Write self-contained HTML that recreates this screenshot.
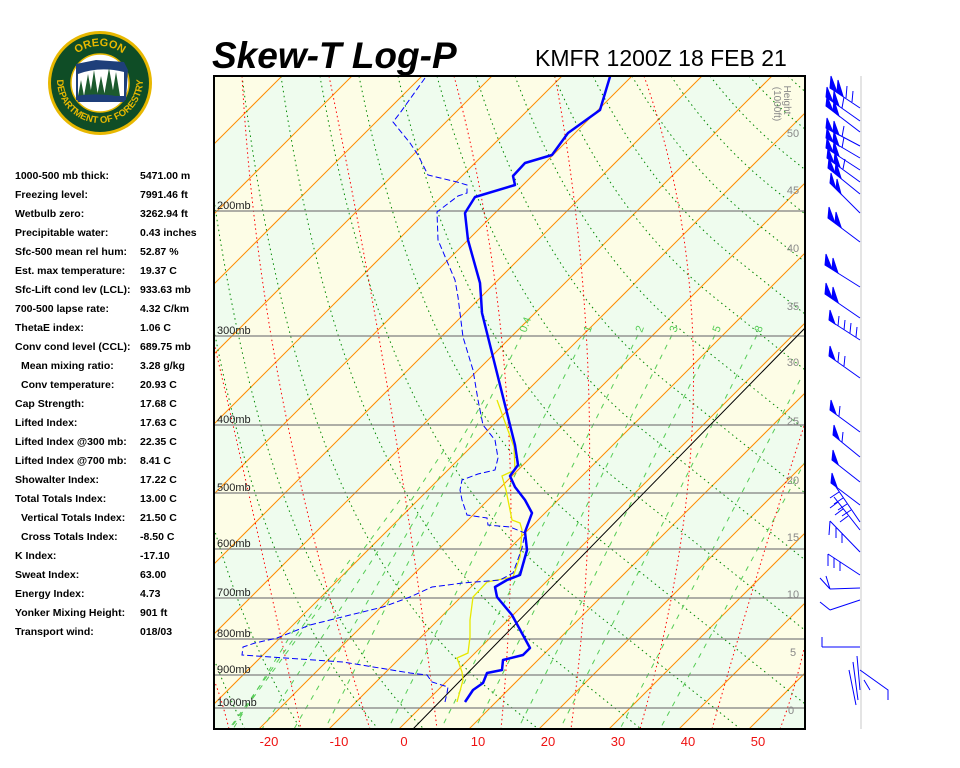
<!DOCTYPE html>
<html><head><meta charset="utf-8"><style>
html,body{margin:0;padding:0;background:#fff;width:960px;height:768px;overflow:hidden}
body{position:relative;font-family:"Liberation Sans",sans-serif}
svg{display:block}
.t{position:absolute;font-size:10.5px;font-weight:bold;color:#000;white-space:nowrap;line-height:12px}
</style></head><body>
<svg width="960" height="768" style="position:absolute;left:0;top:0" xmlns="http://www.w3.org/2000/svg">
<defs>
<clipPath id="c"><rect x="214" y="76" width="591" height="653"/></clipPath>
<path id="arcTop" d="M 62 84 A 38 38 0 0 1 138 84"/>
<path id="arcBot" d="M 57 80 A 43 43 0 0 0 143 80"/>
<g id="gd"><path d="M0,76 Q49,402 229,729"/></g>
</defs>
<!-- logo -->
<circle cx="100" cy="83" r="52" fill="#e8b800"/>
<circle cx="100" cy="83" r="49" fill="#0f4d26"/>
<circle cx="100" cy="83" r="29" fill="#fff" stroke="#e8b800" stroke-width="1.5"/>
<path d="M76 64 L96 60 L124 62 L128 70 L126 100 L76 100 Z" fill="#1e3f7a"/>
<path d="M78 74 Q100 66 124 72 L124 96 L78 96 Z" fill="#fff"/>
<g fill="#1c5a2e">
<polygon points="84,96 88,74 92,96"/><polygon points="90,96 94,70 98,96"/><polygon points="97,96 101,76 105,96"/><polygon points="104,96 109,68 114,96"/><polygon points="112,96 116,72 120,96"/><polygon points="78,96 81,80 84,96"/>
</g>
<path d="M76 96 Q100 92 126 98 L124 102 L78 102 Z" fill="#1e3f7a"/>
<text font-family="Liberation Sans" font-weight="bold" font-size="11" fill="#e8b800"><textPath href="#arcTop" startOffset="50%" text-anchor="middle">OREGON</textPath></text>
<text font-family="Liberation Sans" font-weight="bold" font-size="9.5" fill="#e8b800"><textPath href="#arcBot" startOffset="50%" text-anchor="middle">DEPARTMENT OF FORESTRY</textPath></text>

<!-- plot -->
<rect x="214" y="76" width="591" height="653" fill="#effcee"/>
<g clip-path="url(#c)">
<g fill="#fdfde6">
<polygon points="288,0 358,0 -442,800 -512,800"/>
<polygon points="428,0 498,0 -302,800 -372,800"/>
<polygon points="568,0 638,0 -162,800 -232,800"/>
<polygon points="708,0 778,0 -22,800 -92,800"/>
<polygon points="848,0 918,0 118,800 48,800"/>
<polygon points="988,0 1058,0 258,800 188,800"/>
<polygon points="1128,0 1198,0 398,800 328,800"/>
<polygon points="1268,0 1338,0 538,800 468,800"/>
<polygon points="1408,0 1478,0 678,800 608,800"/>
<polygon points="1548,0 1618,0 818,800 748,800"/>
</g>
<!-- orange -->
<g stroke="#ff8c00" stroke-width="1" fill="none">
<path d="M288,0L-512,800"/><path d="M358,0L-442,800"/><path d="M428,0L-372,800"/><path d="M498,0L-302,800"/><path d="M568,0L-232,800"/><path d="M638,0L-162,800"/><path d="M708,0L-92,800"/><path d="M778,0L-22,800"/><path d="M848,0L48,800"/><path d="M918,0L118,800"/><path d="M988,0L188,800"/><path d="M1058,0L258,800"/><path d="M1128,0L328,800"/><path d="M1198,0L398,800"/><path d="M1268,0L468,800"/><path d="M1338,0L538,800"/><path d="M1408,0L608,800"/><path d="M1478,0L678,800"/><path d="M1548,0L748,800"/><path d="M1618,0L818,800"/>
</g>
<!-- green dotted -->
<g id="gstat" stroke="#008800" stroke-width="1" fill="none" stroke-dasharray="1.5,3.5">
<use href="#gd" x="-199"/><use href="#gd" x="-121"/><use href="#gd" x="-43"/><use href="#gd" x="35"/><use href="#gd" x="113"/><use href="#gd" x="191"/><use href="#gd" x="281"/><use href="#gd" x="319"/><use href="#gd" x="359"/><use href="#gd" x="397"/><use href="#gd" x="437"/><use href="#gd" x="476"/><use href="#gd" x="515"/><use href="#gd" x="554"/><use href="#gd" x="593"/><use href="#gd" x="632"/><use href="#gd" x="671"/><use href="#gd" x="710"/><use href="#gd" x="749"/><use href="#gd" x="788"/>
</g>
<g id="gdyn" stroke="#008800" stroke-width="1" fill="none" stroke-dasharray="1.5,3.5"></g>
<!-- red isotherms -->
<g stroke="#ff0000" stroke-width="1" fill="none" stroke-dasharray="1.5,3">
<path d="M242,76 Q260,400 370,729"/>
<path d="M329,76 Q400,420 437,729"/>
<path d="M454,76 Q535,380 501,729"/>
<path d="M555,76 Q615,400 571,729"/>
<path d="M644,76 Q745,360 640,729"/>
<path d="M712,729 Q760,560 806,420"/>
<path d="M780,729 Q795,690 806,640"/>
<path d="M214,343 Q260,540 301,729"/>
<path d="M214,680 Q222,700 229,729"/>
</g>
<!-- mixing ratio -->
<g stroke="#55cc55" stroke-width="1" fill="none" stroke-dasharray="5,6">
<path d="M522,335 L325,729"/><path d="M585,335 L388,729"/><path d="M638,335 L441,729"/><path d="M672,335 L475,729"/><path d="M715,335 L518,729"/><path d="M757,335 L560,729"/>
<path d="M484,400 L294,729"/><path d="M444,450 L262,729"/><path d="M400,500 L230,729"/><path d="M350,560 L214,750"/><path d="M300,620 L214,760"/><path d="M800,380 L620,729"/><path d="M806,460 L660,729"/>
</g>
<!-- pressure lines -->
<g stroke="#808080" stroke-width="1.2">
<line x1="214" y1="211" x2="805" y2="211"/><line x1="214" y1="336" x2="805" y2="336"/><line x1="214" y1="425" x2="805" y2="425"/><line x1="214" y1="493" x2="805" y2="493"/><line x1="214" y1="549" x2="805" y2="549"/><line x1="214" y1="598" x2="805" y2="598"/><line x1="214" y1="639" x2="805" y2="639"/><line x1="214" y1="675" x2="805" y2="675"/><line x1="214" y1="708" x2="805" y2="708"/>
</g>
<line x1="413" y1="729" x2="805" y2="328" stroke="#000" stroke-width="1"/>
<polyline fill="none" stroke="#e8e800" stroke-width="1.3" points="497,400 514,447 515,470 502,476 506,490 512,520 520,523 522,530 520,557 513,577 487,582 473,597 470,620 470,637 468,653 457,658 462,672 463,680 457,702"/>
<polyline fill="none" stroke="#0000ff" stroke-width="1" stroke-dasharray="6,3" points="425,78 400,113 393,122 410,143 418,155 428,175 457,182 467,185 467,193 458,196 437,212 438,240 455,280 458,297 463,337 473,370 478,400 483,425 495,440 498,458 495,470 478,474 462,480 460,490 462,500 467,515 487,518 488,525 510,527 525,533 522,548 513,573 500,580 463,583 432,587 410,597 383,607 350,615 310,625 277,638 255,643 243,647 242,655 343,662 410,673 427,675 432,682 448,687 447,693 445,702"/>
<polyline fill="none" stroke="#0000ff" stroke-width="2.5" stroke-linejoin="round" points="612,70 600,110 568,133 552,155 525,163 513,176 515,185 475,197 465,213 468,240 480,283 481,297 482,313 493,357 505,405 515,445 518,465 510,476 515,487 525,500 532,513 525,532 527,550 520,575 507,580 495,587 497,597 512,615 530,648 523,655 503,660 502,670 487,673 483,683 473,690 465,702"/>
</g>
<rect x="214" y="76" width="591" height="653" fill="none" stroke="#000" stroke-width="2"/>
<g font-family="Liberation Sans" font-size="11" fill="#222">
<text x="217" y="209">200mb</text><text x="217" y="334">300mb</text><text x="217" y="423">400mb</text><text x="217" y="491">500mb</text><text x="217" y="547">600mb</text><text x="217" y="596">700mb</text><text x="217" y="637">800mb</text><text x="217" y="673">900mb</text><text x="217" y="706">1000mb</text>
</g>
<g font-family="Liberation Sans" font-size="11" fill="#55cc55">
<text transform="translate(526,333) rotate(-70)">0.4</text><text transform="translate(590,333) rotate(-70)">1</text><text transform="translate(642,333) rotate(-70)">2</text><text transform="translate(676,333) rotate(-70)">3</text><text transform="translate(719,333) rotate(-70)">5</text><text transform="translate(761,333) rotate(-70)">8</text>
</g>
<g font-family="Liberation Sans" font-size="11" fill="#888" text-anchor="middle">
<text x="793" y="137">50</text><text x="793" y="194">45</text><text x="793" y="252">40</text><text x="793" y="310">35</text><text x="793" y="366">30</text><text x="793" y="425">25</text><text x="793" y="484">20</text><text x="793" y="541">15</text><text x="793" y="598">10</text><text x="793" y="656">5</text><text x="791" y="714">0</text>
<text transform="translate(784,100) rotate(90)" font-size="10">Height</text>
<text transform="translate(774,104) rotate(90)" font-size="10">(1000ft)</text>
</g>
<g font-family="Liberation Sans" font-size="13" fill="#ee1111" text-anchor="middle">
<text x="269" y="746">-20</text><text x="339" y="746">-10</text><text x="404" y="746">0</text><text x="478" y="746">10</text><text x="548" y="746">20</text><text x="618" y="746">30</text><text x="688" y="746">40</text><text x="758" y="746">50</text>
</g>
<text x="212" y="68" font-family="Liberation Sans" font-weight="bold" font-style="italic" font-size="37" fill="#000">Skew-T Log-P</text>
<text x="535" y="66" font-family="Liberation Sans" font-size="23" fill="#000">KMFR 1200Z 18 FEB 21</text>

<!-- wind barbs -->
<line x1="861" y1="76" x2="861" y2="729" stroke="#e4e4e4" stroke-width="2"/>
<g stroke="#0000ff" stroke-width="1" fill="#0000ff">
<g transform="translate(830,88)"><line x1="0" y1="0" x2="30" y2="20"/><polygon points="0,0 7,4 1,-12"/><polygon points="7,4 13,8 8,-8"/><line x1="16" y1="10" x2="17" y2="-2"/><line x1="22" y1="14" x2="23" y2="3"/></g>
<g transform="translate(826,97)"><line x1="0" y1="0" x2="34" y2="24"/><polygon points="0,0 7,5 1,-10"/><polygon points="7,5 13,9 8,-6"/><line x1="16" y1="11" x2="18" y2="0"/></g>
<g transform="translate(826,106)"><line x1="0" y1="0" x2="34" y2="26"/><polygon points="0,0 7,5 1,-10"/><polygon points="7,5 13,10 8,-6"/></g>
<g transform="translate(826,128)"><line x1="0" y1="0" x2="34" y2="18"/><polygon points="0,0 7,4 1,-10"/><polygon points="7,4 13,7 8,-7"/><line x1="16" y1="9" x2="18" y2="-2"/></g>
<g transform="translate(826,138)"><line x1="0" y1="0" x2="34" y2="20"/><polygon points="0,0 7,4 1,-10"/><polygon points="7,4 13,8 8,-7"/><line x1="16" y1="10" x2="18" y2="-1"/></g>
<g transform="translate(826,148)"><line x1="0" y1="0" x2="34" y2="22"/><polygon points="0,0 7,4 1,-10"/><polygon points="7,4 13,8 8,-7"/></g>
<g transform="translate(827,158)"><line x1="0" y1="0" x2="33" y2="24"/><polygon points="0,0 7,5 1,-10"/><polygon points="7,5 13,9 8,-6"/><line x1="16" y1="11" x2="18" y2="1"/></g>
<g transform="translate(828,168)"><line x1="0" y1="0" x2="32" y2="26"/><polygon points="0,0 7,5 1,-10"/><polygon points="7,5 13,10 8,-6"/></g>
<g transform="translate(830,183)"><line x1="0" y1="0" x2="30" y2="30"/><polygon points="0,0 6,6 1,-10"/><polygon points="6,6 11,11 7,-4"/></g>
<g transform="translate(828,218)"><line x1="0" y1="0" x2="32" y2="24"/><polygon points="0,0 7,5 1,-11"/><polygon points="7,5 13,9 8,-6"/></g>
<g transform="translate(825,265)"><line x1="0" y1="0" x2="35" y2="22"/><polygon points="0,0 7,4 1,-11"/><polygon points="7,4 13,8 8,-7"/></g>
<g transform="translate(825,294)"><line x1="0" y1="0" x2="35" y2="24"/><polygon points="0,0 7,4 1,-11"/><polygon points="7,4 13,8 8,-7"/></g>
<g transform="translate(829,320)"><line x1="0" y1="0" x2="31" y2="20"/><polygon points="0,0 6,4 1,-10"/><line x1="9" y1="6" x2="10" y2="-4"/><line x1="15" y1="10" x2="16" y2="0"/><line x1="21" y1="13" x2="22" y2="3"/><line x1="27" y1="17" x2="28" y2="7"/></g>
<g transform="translate(829,356)"><line x1="0" y1="0" x2="31" y2="22"/><polygon points="0,0 6,4 1,-10"/><line x1="9" y1="6" x2="10" y2="-4"/><line x1="15" y1="10" x2="16" y2="0"/></g>
<g transform="translate(830,410)"><line x1="0" y1="0" x2="30" y2="22"/><polygon points="0,0 6,4 1,-10"/><line x1="9" y1="6" x2="10" y2="-4"/></g>
<g transform="translate(833,435)"><line x1="0" y1="0" x2="27" y2="22"/><polygon points="0,0 6,4 1,-10"/><line x1="9" y1="7" x2="10" y2="-3"/></g>
<g transform="translate(832,460)"><line x1="0" y1="0" x2="28" y2="22"/><polygon points="0,0 6,4 1,-10"/></g>
<g transform="translate(831,483)"><line x1="0" y1="0" x2="29" y2="22"/><polygon points="0,0 6,4 1,-10"/></g>
<g fill="none"><path d="M836,487 L860,522 M839,492 L830,498 M843,498 L834,504 M847,504 L838,510 M851,510 L842,516"/>
<path d="M834,497 L860,530 M838,502 L830,508 M843,509 L835,515 M848,516 L840,522"/>
<path d="M830,521 L860,552 M830,521 L829,535 M836,527 L836,538 M842,533 L842,543"/>
<path d="M828,554 L860,575 M828,554 L828,566 M834,558 L834,568 M840,562 L840,571"/>
<path d="M830,589 L860,588 M830,589 L820,578 M830,589 L826,576"/>
<path d="M830,610 L860,600 M830,610 L820,602"/>
<path d="M822,647 L860,647 M822,647 L822,637"/>
<path d="M857,656 L860,690 M853,662 L858,700 M849,670 L856,705 M860,670 L888,690 L888,700 M864,680 L870,690"/></g>
</g>
</svg>
<script>
(function(){
try{
function s(x,y){return Math.min(1.25,0.15*Math.exp((x-281)/260+(y-76)/480));}
var seeds=[],i;
for(i=242;i<=805;i+=39)seeds.push([i,76]);
seeds.push([214,200]);
var y=330;
while(y<729){seeds.push([214,y]);y+=Math.max(45,39/s(214,y));}
var g=document.getElementById('gdyn'),ns='http://www.w3.org/2000/svg';
seeds.forEach(function(p){
 var x=p[0],yy=p[1],d='M'+x.toFixed(1)+','+yy.toFixed(1);
 while(yy<735&&x<820){var k=s(x,yy);x+=k*3;yy+=3;d+=' L'+x.toFixed(1)+','+yy.toFixed(1);}
 var e=document.createElementNS(ns,'path');e.setAttribute('d',d);g.appendChild(e);
});
var st=document.getElementById('gstat');st.parentNode.removeChild(st);
}catch(err){}
})();
</script>
<div class="t" style="left:15px;top:170px">1000-500 mb thick:</div><div class="t" style="left:140px;top:170px">5471.00 m</div>
<div class="t" style="left:15px;top:189px">Freezing level:</div><div class="t" style="left:140px;top:189px">7991.46 ft</div>
<div class="t" style="left:15px;top:208px">Wetbulb zero:</div><div class="t" style="left:140px;top:208px">3262.94 ft</div>
<div class="t" style="left:15px;top:227px">Precipitable water:</div><div class="t" style="left:140px;top:227px">0.43 inches</div>
<div class="t" style="left:15px;top:246px">Sfc-500 mean rel hum:</div><div class="t" style="left:140px;top:246px">52.87 %</div>
<div class="t" style="left:15px;top:265px">Est. max temperature:</div><div class="t" style="left:140px;top:265px">19.37 C</div>
<div class="t" style="left:15px;top:284px">Sfc-Lift cond lev (LCL):</div><div class="t" style="left:140px;top:284px">933.63 mb</div>
<div class="t" style="left:15px;top:303px">700-500 lapse rate:</div><div class="t" style="left:140px;top:303px">4.32 C/km</div>
<div class="t" style="left:15px;top:322px">ThetaE index:</div><div class="t" style="left:140px;top:322px">1.06 C</div>
<div class="t" style="left:15px;top:341px">Conv cond level (CCL):</div><div class="t" style="left:140px;top:341px">689.75 mb</div>
<div class="t" style="left:21px;top:360px">Mean mixing ratio:</div><div class="t" style="left:140px;top:360px">3.28 g/kg</div>
<div class="t" style="left:21px;top:379px">Conv temperature:</div><div class="t" style="left:140px;top:379px">20.93 C</div>
<div class="t" style="left:15px;top:398px">Cap Strength:</div><div class="t" style="left:140px;top:398px">17.68 C</div>
<div class="t" style="left:15px;top:417px">Lifted Index:</div><div class="t" style="left:140px;top:417px">17.63 C</div>
<div class="t" style="left:15px;top:436px">Lifted Index @300 mb:</div><div class="t" style="left:140px;top:436px">22.35 C</div>
<div class="t" style="left:15px;top:455px">Lifted Index @700 mb:</div><div class="t" style="left:140px;top:455px">8.41 C</div>
<div class="t" style="left:15px;top:474px">Showalter Index:</div><div class="t" style="left:140px;top:474px">17.22 C</div>
<div class="t" style="left:15px;top:493px">Total Totals Index:</div><div class="t" style="left:140px;top:493px">13.00 C</div>
<div class="t" style="left:21px;top:512px">Vertical Totals Index:</div><div class="t" style="left:140px;top:512px">21.50 C</div>
<div class="t" style="left:21px;top:531px">Cross Totals Index:</div><div class="t" style="left:140px;top:531px">-8.50 C</div>
<div class="t" style="left:15px;top:550px">K Index:</div><div class="t" style="left:140px;top:550px">-17.10</div>
<div class="t" style="left:15px;top:569px">Sweat Index:</div><div class="t" style="left:140px;top:569px">63.00</div>
<div class="t" style="left:15px;top:588px">Energy Index:</div><div class="t" style="left:140px;top:588px">4.73</div>
<div class="t" style="left:15px;top:607px">Yonker Mixing Height:</div><div class="t" style="left:140px;top:607px">901 ft</div>
<div class="t" style="left:15px;top:626px">Transport wind:</div><div class="t" style="left:140px;top:626px">018/03</div>
</body></html>
